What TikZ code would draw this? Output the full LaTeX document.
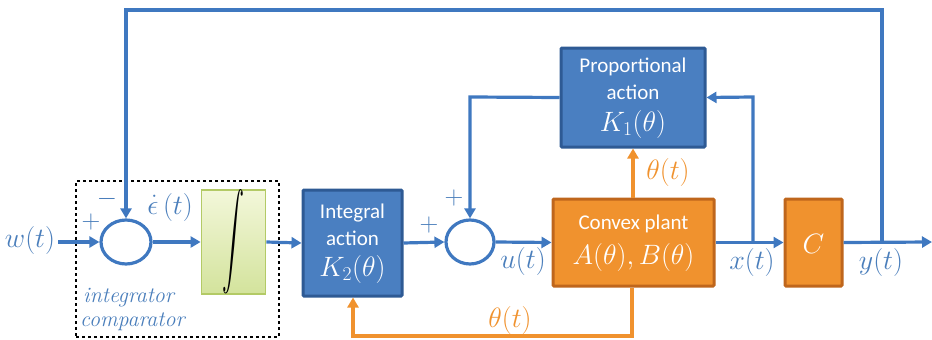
\RequirePackage{fix-cm}
\documentclass[tikz,border=0pt]{standalone}
\usepackage{fontspec}
\setsansfont{Carlito}
\usetikzlibrary{arrows.meta,shapes.geometric,calc}
\definecolor{lblue}{HTML}{3F78C0}
\definecolor{tblue}{HTML}{4A7EBB}
\definecolor{bfill}{HTML}{4A7FC1}
\definecolor{bdraw}{HTML}{2E5A94}
\definecolor{ofill}{HTML}{F0922E}
\definecolor{odraw}{HTML}{BF661C}
\definecolor{oline}{HTML}{F0922E}
\definecolor{gtop}{HTML}{F3F7DA}
\definecolor{gbot}{HTML}{D3E39C}
\definecolor{gdraw}{HTML}{B3CA66}
\tikzset{
  bline/.style={draw=lblue, line width=3.2pt},
  barrow/.style={bline, -{Triangle[length=10pt,width=11pt]}},
  oarrow/.style={draw=oline, line width=3.2pt, -{Triangle[length=10pt,width=11pt]}},
  sumnode/.style={ellipse, draw=lblue, line width=3.2pt, fill=white, minimum width=50pt, minimum height=44pt, inner sep=0pt},
  bbox/.style={rectangle, draw=bdraw, fill=bfill, line width=3pt, rounded corners=1pt},
  obox/.style={rectangle, draw=odraw, fill=ofill, line width=3pt, rounded corners=1pt},
  boxtxt/.style={text=white, font=\sffamily\fontsize{21}{23}\selectfont, inner sep=0pt},
  boxmath/.style={text=white, font=\fontsize{28}{30}\selectfont, inner sep=0pt},
  blab/.style={text=tblue, font=\fontsize{28}{30}\selectfont, inner sep=0pt},
  olab/.style={text=oline, font=\fontsize{28}{30}\selectfont, inner sep=0pt},
  sgn/.style={text=tblue, font=\fontsize{26}{28}\selectfont, inner sep=0pt},
  itlab/.style={text=tblue, font=\itshape\fontsize{22}{24}\selectfont, inner sep=0pt, anchor=west},
}
\begin{document}
\begin{tikzpicture}[x=1pt,y=-1pt]
\useasboundingbox (0,0) rectangle (932,340);
% dashed integrator comparator box
\node[draw=black, dashed, line width=1.2pt, minimum width=203pt, minimum height=156pt, inner sep=0pt] (dash) at (177.5,259) {};
% sum 1
\node[sumnode] (s1) at (126,242) {};
% integrator
\node[rectangle, draw=gdraw, line width=1.8pt, top color=gtop, bottom color=gbot, minimum width=64pt, minimum height=84pt, inner sep=0pt] (intg) at (233.5,242) {\resizebox{22pt}{64pt}{$\displaystyle\int$}};
% integral action
\node[bbox, minimum width=99pt, minimum height=106pt] (ka) at (352.5,243) {};
\node[boxtxt] (ka1) at (352.5,213) {Integral};
\node[boxtxt] (ka2) at (352.5,238) {action};
\node[boxmath] (ka3) at (352.5,269) {$K_2(\theta)$};
% sum 2
\node[sumnode, minimum width=48pt] (s2) at (470,242) {};
% proportional
\node[bbox, minimum width=144pt, minimum height=99pt] (kp) at (633,97.5) {};
\node[boxtxt] (kp1) at (633,67) {Proportional};
\node[boxtxt] (kp2) at (633,92) {action};
\node[boxmath] (kp3) at (633,124) {$K_1(\theta)$};
% plant
\node[obox, minimum width=161pt, minimum height=87pt] (pl) at (633.5,242.5) {};
\node[boxtxt] (pl1) at (633.5,224) {Convex plant};
\node[boxmath] (pl2) at (633.5,257) {$A(\theta),B(\theta)$};
% C
\node[obox, minimum width=57pt, minimum height=87pt] (cc) at (813.5,242.5) {};
\node[boxmath] (cc1) at (813.5,244) {$C$};
% coordinates
\coordinate (win) at (58,242);
\coordinate (xb) at (753,242);
\coordinate (yb) at (882,242);
\coordinate (yout) at (932,242);
\coordinate (top1) at (882,10);
\coordinate (top2) at (126,10);
\coordinate (pl-l) at (470,97);
\coordinate (xup) at (753,97);
\coordinate (ob1) at (632,336);
\coordinate (ob2) at (353,336);
% connectors
\draw[barrow] (win) -- (s1.west);
\draw[barrow] (s1.east) -- (intg.west);
\draw[barrow] (intg.east) -- (ka.west);
\draw[barrow] (ka.east) -- (s2.west);
\draw[barrow] (s2.east) -- (pl.west);
\draw[barrow] (pl.east) -- (cc.west);
\draw[barrow] (cc.east) -- (yout);
\draw[barrow] (yb) -- (top1) -- (top2) -- (s1.north);
\draw[barrow] (kp.west) -- (pl-l) -- (s2.north);
\draw[barrow] (xb) -- (xup) -- (kp.east);
\draw[oarrow] (pl.north -| kp.south) -- (kp.south);
\draw[oarrow] (pl.south -| ob1) -- (ob1) -- (ob2) -- (ka.south -| ob2);
% labels
\node[blab] (lw) at (30,240) {$w(t)$};
\node[sgn] (p1) at (91,222) {$+$};
\node[sgn] (m1) at (107,199) {$-$};
\node[blab] (le) at (170,207) {$\dot{\epsilon}\,(t)$};
\node[sgn] (p2) at (429,225) {$+$};
\node[sgn] (p3) at (454,198) {$+$};
\node[blab] (lu) at (523,261) {$u(t)$};
\node[blab] (lx) at (752,262) {$x(t)$};
\node[blab] (ly) at (881,262) {$y(t)$};
\node[olab] (lt1) at (668,172) {$\theta(t)$};
\node[olab] (lt2) at (510,320) {$\theta(t)$};
\node[itlab] (ic1) at (83,298) {integrator};
\node[itlab] (ic2) at (80,322) {comparator};
\end{tikzpicture}
\end{document}
